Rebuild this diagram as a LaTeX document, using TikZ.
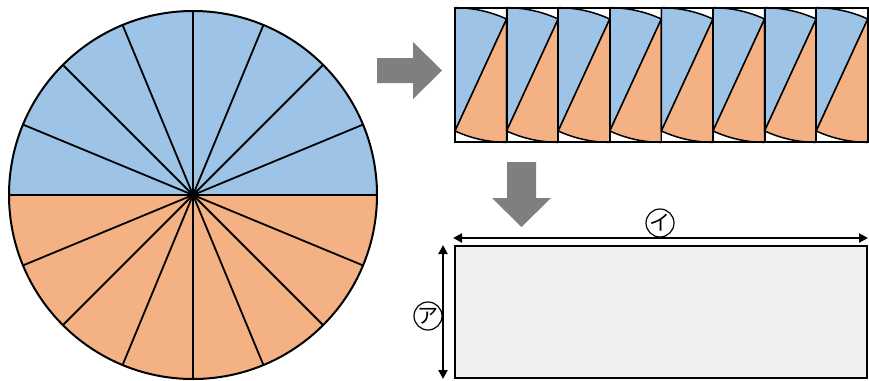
\documentclass[tikz,border=0pt]{standalone}
\usepackage{fontspec}
\newfontfamily\jpfont{Noto Sans CJK JP}
\usetikzlibrary{arrows.meta}
\definecolor{sblue}{HTML}{9DC3E6}
\definecolor{sorange}{HTML}{F4B183}
\definecolor{agray}{HTML}{7F7F7F}
\definecolor{rgray}{HTML}{F0F0F0}
\begin{document}
\begin{tikzpicture}[x=1pt,y=-1pt,
  spoke/.style={line width=1.8pt},
  cellline/.style={line width=1.5pt, line join=round},
  blockarrow/.style={fill=agray},
  dimarrow/.style={line width=2pt, {Triangle[length=9pt,width=9pt]}-{Triangle[length=9pt,width=9pt]}},
  circlab/.style={draw, circle, line width=1.2pt, minimum size=28pt, inner sep=0pt, font=\jpfont\fontsize{21}{21}\selectfont}]
\useasboundingbox (0,0) rectangle (869,380);
% circle
\coordinate (O) at (193,195);
\fill[sblue] (O) -- +(-184,0) arc[start angle=180, end angle=360, radius=184] -- cycle;
\fill[sorange] (O) -- +(184,0) arc[start angle=0, end angle=180, radius=184] -- cycle;
\foreach \a in {0,22.5,...,337.5} \draw[spoke] (O) -- +(\a:184);
\draw[line width=2pt] (O) circle[radius=184];
\fill (O) circle[radius=4];
% strip of sectors
\foreach \k in {0,...,7}{
  \pgfmathsetmacro\xx{455+51.6*\k}
  \fill[white] (\xx,8) rectangle ++(51.6,134);
  \filldraw[fill=sblue, cellline] (\xx,131) -- (\xx,7.7) arc[start angle=-90,end angle=-65.26,radius=123.3] -- cycle;
  \filldraw[fill=sorange, cellline] (\xx+51.6,19) -- (\xx+51.6,142.3) arc[start angle=90,end angle=114.74,radius=123.3] -- cycle;
  \draw[line width=1.8pt] (\xx,8) rectangle ++(51.6,134);
}
% block arrows
\fill[blockarrow] (377,58) -- (413,58) -- (413,42) -- (442,70.5) -- (413,99) -- (413,83) -- (377,83) -- cycle;
\fill[blockarrow] (507,162) -- (536,162) -- (536,198) -- (551,198) -- (521.5,227) -- (492,198) -- (507,198) -- cycle;
% rectangle
\draw[fill=rgray, line width=1.8pt] (455,246) rectangle (867,378);
\coordinate (h1) at (453,238);
\coordinate (h2) at (868,238);
\coordinate (v1) at (443,245);
\coordinate (v2) at (443,379);
\draw[dimarrow] (h1) -- (h2);
\draw[dimarrow] (v1) -- (v2);
\node[circlab] (labi) at (660,223) {イ};
\node[circlab] (laba) at (428,316) {ア};
\end{tikzpicture}
\end{document}
